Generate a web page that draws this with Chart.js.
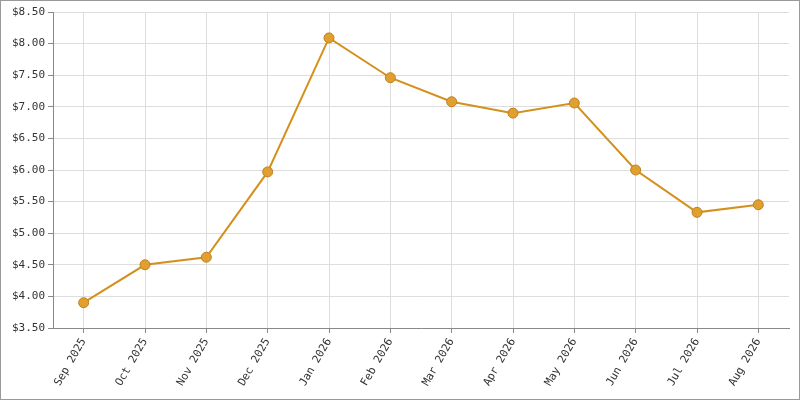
<!DOCTYPE html>
<html><head><meta charset="utf-8">
<script src="https://cdn.jsdelivr.net/npm/chart.js@4"></script>
<style>html,body{margin:0;padding:0;background:#fff}
#w{width:798px;height:398px;border:1px solid #999;position:relative}
</style></head><body><div id="w"><canvas id="c"></canvas></div>
<script>
const categories=["Sep 2025","Oct 2025","Nov 2025","Dec 2025","Jan 2026","Feb 2026","Mar 2026","Apr 2026","May 2026","Jun 2026","Jul 2026","Aug 2026"];
const prices=[3.90,4.50,4.62,5.97,8.09,7.46,7.08,6.90,7.06,6.00,5.33,5.45];
const yMin=3.5, yMax=8.5, yStep=0.5;
Chart.defaults.font.family="'DejaVu Sans Mono', monospace";
Chart.defaults.font.size=10;
Chart.defaults.color="#333";
new Chart(document.getElementById('c'),{
type:'line',
data:{labels:categories,datasets:[{data:prices,borderColor:'#d4901c',borderWidth:2,backgroundColor:'#e0a030',pointBorderColor:'#c08020',pointBorderWidth:1,pointRadius:5,tension:0}]},
options:{responsive:true,maintainAspectRatio:false,animation:false,
layout:{padding:{top:11,right:10,left:0,bottom:2}},
plugins:{legend:{display:false},tooltip:{enabled:false}},
scales:{
x:{offset:true,grid:{offset:false,color:'#ddd',tickColor:'#888',tickLength:5},border:{color:'#888'},
ticks:{font:{size:11},maxRotation:60,minRotation:60,autoSkip:false,padding:3},
afterFit:a=>{a.height=69}},
y:{min:yMin,max:yMax,grid:{color:'#ddd',tickColor:'#888',tickLength:5},border:{color:'#888'},
ticks:{font:{size:11},stepSize:yStep,padding:3,callback:v=>'$'+Number(v).toFixed(2)},
afterFit:a=>{a.width=52}}
}}});
</script></body></html>
